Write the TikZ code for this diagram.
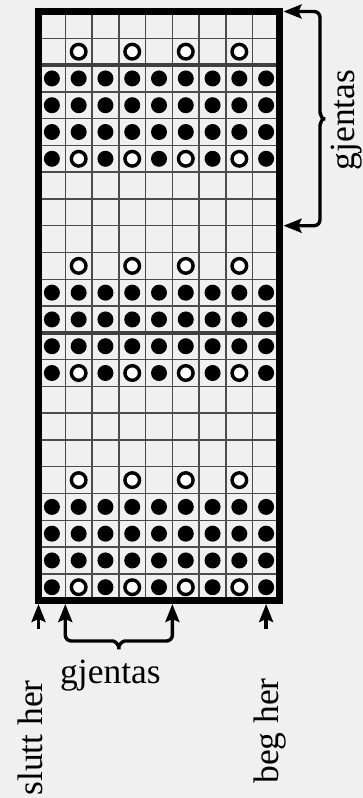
\documentclass[tikz,border=0pt]{standalone}
\usepackage{fontspec}
\setmainfont{Liberation Serif}
\usetikzlibrary{arrows.meta}
\definecolor{bg}{HTML}{F0F0F0}
\definecolor{gridc}{HTML}{4C4C4C}
\definecolor{sepc}{HTML}{404040}
\begin{document}
\begin{tikzpicture}[x=1pt,y=-1pt,
  gridline/.style={gridc, line width=1.5pt},
  sepline/.style={sepc, line width=3.4pt},
  fullst/.style={fill=black},
  openst/.style={draw=black, line width=3.4pt, fill=white},
  arr/.style={line width=3.4pt, -{Stealth[length=18pt,width=14pt,inset=3pt]}},
  bracest/.style={line width=3.4pt, {Stealth[length=18pt,width=14pt,inset=3pt]}-{Stealth[length=18pt,width=14pt,inset=3pt]}, rounded corners=6pt},
  lbl/.style={inner sep=0pt, font=\fontsize{35.5}{42}\selectfont}]
\fill[bg] (0,0) rectangle (363,798);
\useasboundingbox (0,0) rectangle (363,798);
\def\X{38.5}\def\Y{11.5}\def\C{26.7778}
% grid
\foreach \i in {1,...,8}
  \draw[gridline] ({\X+\i*\C},\Y) -- ({\X+\i*\C},{\Y+22*\C});
\foreach \j in {1,...,21}
  \draw[gridline] (\X,{\Y+\j*\C}) -- ({\X+9*\C},{\Y+\j*\C});
\foreach \j in {2,12}
  \draw[sepline] (\X,{\Y+\j*\C}) -- ({\X+9*\C},{\Y+\j*\C});
% stitches
\foreach \r in {1,...,22}{
  \pgfmathtruncatemacro\k{mod(22-\r,8)}
  \foreach \c in {1,...,9}{
    \pgfmathsetmacro\cx{\X+(\c-0.5)*\C}
    \pgfmathsetmacro\cy{\Y+(\r-0.5)*\C}
    \pgfmathtruncatemacro\odd{mod(\c,2)}
    \ifnum\k>0 \ifnum\k<4
      \fill[fullst] (\cx,\cy) circle (8);
    \fi\fi
    \ifnum\k=0
      \ifnum\odd=1 \fill[fullst] (\cx,\cy) circle (8);
      \else \draw[openst] (\cx,\cy) circle (7.3); \fi
    \fi
    \ifnum\k=4
      \ifnum\odd=0 \draw[openst] (\cx,\cy) circle (7.3); \fi
    \fi
  }
}
% frame
\node[draw, line width=7.5pt, inner sep=0pt, minimum width={9*\C pt}, minimum height={22*\C pt}] (frame) at ({\X+4.5*\C},{\Y+11*\C}) {};
% coordinates
\coordinate (tA) at (283.5,11.5);
\coordinate (tB) at (283.5,{\Y+8*\C});
\coordinate (tL) at (38.5,604);
\coordinate (tC) at ({\X+\C},604);
\coordinate (tD) at ({\X+5*\C},604);
\coordinate (tR) at ({\X+8.5*\C},604);
\coordinate (eL) at (38.5,629);
\coordinate (eR) at ({\X+8.5*\C},629);
% right brace
\draw[bracest] (tA) -- (320,11.5) -- (320,106)
  .. controls (320,114) and (322.5,118.8) .. (329,118.8)
  .. controls (322.5,118.8) and (320,123.6) .. (320,131.6)
  -- (320,{\Y+8*\C}) -- (tB);
% bottom brace
\draw[bracest] (tC) -- ({\X+\C},641) -- (107,641)
  .. controls (115,641) and (118.8,645) .. (118.8,653)
  .. controls (118.8,645) and (122.6,641) .. (130.6,641)
  -- ({\X+5*\C},641) -- (tD);
\draw[arr] (eL) -- (tL);
\draw[arr] (eR) -- (tR);
% labels
\node[lbl, rotate=90, anchor=base] (g1) at (354,120) {gjentas};
\node[lbl, anchor=base west] (g2) at (60,683) {gjentas};
\node[lbl, rotate=90, anchor=base east] (sl) at (42,680) {slutt her};
\node[lbl, rotate=90, anchor=base east] (bh) at (278,678) {beg her};
\end{tikzpicture}
\end{document}
